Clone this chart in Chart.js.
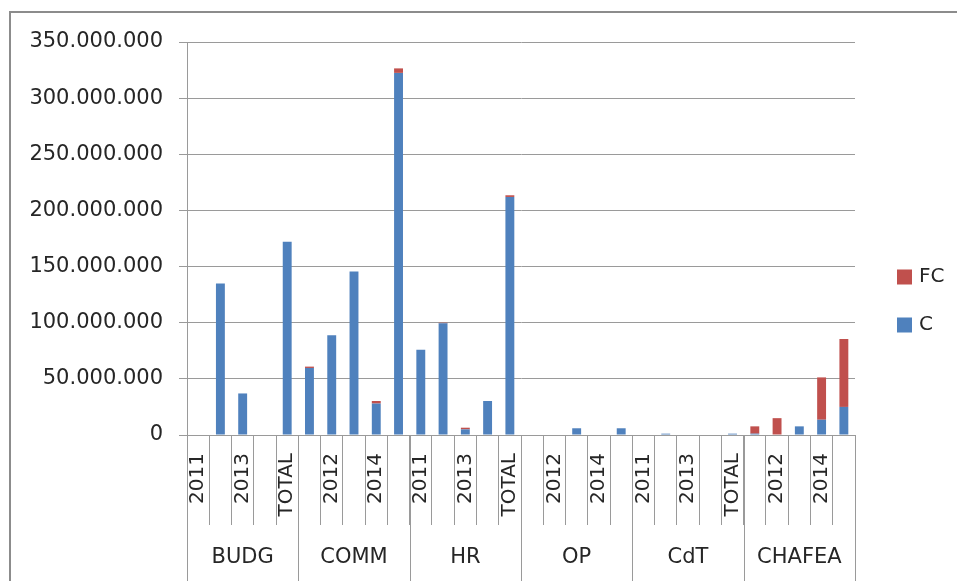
<!DOCTYPE html>
<html>
<head>
<meta charset="utf-8">
<title>C / FC per service</title>
<script src="https://cdn.jsdelivr.net/npm/chart.js@4.4.1/dist/chart.umd.min.js"></script>
<style>
    html, body { margin: 0; padding: 0; overflow: hidden; background: #fff; }
    #budgetChart { display: block; }
</style>
</head>
<body>
<canvas id="budgetChart" width="957" height="581"></canvas>

<script>
// Chart data
const groups = ['BUDG', 'COMM', 'HR', 'OP', 'CdT', 'CHAFEA'];
const years = ['2011', '2012', '2013', '2014', 'TOTAL'];

// C (blue) per group, 2011..2014 + TOTAL
const cValues = [
    0, 135000000, 37000000, 0, 172000000,
    59700000, 88800000, 145500000, 28000000, 322500000,
    76000000, 99500000, 5000000, 30300000, 212000000,
    0, 0, 6000000, 0, 6000000,
    0, 1200000, 0, 0, 1200000,
    1200000, 0, 7700000, 13600000, 25000000
];

// FC (red) per group, 2011..2014 + TOTAL
const fcValues = [
    0, 0, 0, 0, 0,
    1200000, 0, 0, 2300000, 4000000,
    0, 500000, 1500000, 0, 1500000,
    0, 0, 0, 0, 0,
    0, 0, 0, 0, 0,
    6500000, 15000000, 0, 37700000, 60500000
];

const yTicks = [0, 50000000, 100000000, 150000000, 200000000, 250000000, 300000000, 350000000];

// one category per (group, year)
const categories = [];
groups.forEach(g => years.forEach(y => categories.push(y)));

const gridColor = '#9a9a9a';
const frameColor = '#8c8c8c';
const textColor = '#262626';
const fontFamily = '"DejaVu Sans", sans-serif';

// 350000000 -> 350.000.000
function formatDots(value) {
    return String(value).replace(/\B(?=(\d{3})+(?!\d))/g, '.');
}

// Outer chart frame (only left and top edges are inside the picture)
const framePlugin = {
    id: 'frame',
    beforeDraw(chart) {
        const ctx = chart.ctx;
        ctx.save();
        ctx.strokeStyle = frameColor;
        ctx.lineWidth = 2;
        ctx.beginPath();
        ctx.moveTo(10, chart.height);
        ctx.lineTo(10, 12);
        ctx.lineTo(chart.width, 12);
        ctx.stroke();
        ctx.restore();
    }
};

// Draws the second axis level: group separators and group names
const groupAxisPlugin = {
    id: 'groupAxis',
    afterDraw(chart) {
        const x = chart.scales.x;
        const ctx = chart.ctx;
        const half = (x.getPixelForValue(1) - x.getPixelForValue(0)) / 2;

        ctx.save();
        ctx.strokeStyle = gridColor;
        ctx.lineWidth = 1;
        for (let g = 0; g <= groups.length; g++) {
            const idx = g * years.length;
            const px = idx < categories.length
                ? x.getPixelForValue(idx) - half
                : x.getPixelForValue(categories.length - 1) + half;
            const sx = Math.round(px) + 0.5;
            ctx.beginPath();
            ctx.moveTo(sx, x.top);
            ctx.lineTo(sx, chart.height);
            ctx.stroke();
        }

        ctx.fillStyle = textColor;
        ctx.font = '21px ' + fontFamily;
        ctx.textAlign = 'center';
        ctx.textBaseline = 'middle';
        groups.forEach((name, g) => {
            const first = x.getPixelForValue(g * years.length);
            const last = x.getPixelForValue(g * years.length + years.length - 1);
            ctx.fillText(name, (first + last) / 2, 558);
        });
        ctx.restore();
    }
};

// Legend to the right of the plot, FC above C (Excel order)
const sideLegendPlugin = {
    id: 'sideLegend',
    afterDraw(chart) {
        const ctx = chart.ctx;
        const items = chart.data.datasets.slice().reverse();
        const boxX = chart.chartArea.right + 42;

        ctx.save();
        ctx.font = '20px ' + fontFamily;
        ctx.textAlign = 'left';
        ctx.textBaseline = 'middle';
        items.forEach((ds, i) => {
            const cy = 277 + i * 48;
            ctx.fillStyle = ds.backgroundColor;
            ctx.fillRect(boxX, cy - 7.5, 15, 15);
            ctx.fillStyle = textColor;
            ctx.fillText(ds.label, boxX + 22, cy);
        });
        ctx.restore();
    }
};

let budgetChart = null;

function initializeBudgetChart() {
    const canvas = document.getElementById('budgetChart');
    if (!canvas) return;

    budgetChart = new Chart(canvas.getContext('2d'), {
        type: 'bar',
        data: {
            labels: categories,
            datasets: [
                {
                    label: 'C',
                    data: cValues,
                    backgroundColor: '#4F81BD',
                    borderWidth: 0
                },
                {
                    label: 'FC',
                    data: fcValues,
                    backgroundColor: '#C0504D',
                    borderWidth: 0
                }
            ]
        },
        options: {
            responsive: false,
            animation: false,
            layout: { padding: { top: 42, bottom: 21, left: 0, right: 102 } },
            datasets: {
                bar: { barPercentage: 0.4, categoryPercentage: 1 }
            },
            plugins: {
                tooltip: { enabled: false },
                legend: { display: false }
            },
            scales: {
                x: {
                    stacked: true,
                    offset: true,
                    grid: {
                        offset: true,
                        drawOnChartArea: false,
                        drawTicks: true,
                        tickLength: 90,
                        color: gridColor
                    },
                    border: { color: gridColor },
                    ticks: {
                        autoSkip: false,
                        minRotation: 90,
                        maxRotation: 90,
                        padding: -72,
                        color: textColor,
                        font: { family: fontFamily, size: 20 },
                        callback: function (value, index) {
                            return index % 2 === 0 ? this.getLabelForValue(value) : '';
                        }
                    },
                    afterFit: function (scale) {
                        scale.height = 125;
                    }
                },
                y: {
                    stacked: true,
                    min: yTicks[0],
                    max: yTicks[yTicks.length - 1],
                    grid: { color: gridColor, tickLength: 8 },
                    border: { color: gridColor },
                    ticks: {
                        stepSize: yTicks[1] - yTicks[0],
                        padding: 16,
                        color: textColor,
                        font: { family: fontFamily, size: 21 },
                        callback: value => formatDots(value)
                    },
                    afterFit: function (scale) {
                        scale.width = 187;
                    }
                }
            }
        },
        plugins: [framePlugin, groupAxisPlugin, sideLegendPlugin]
    });
}

document.addEventListener('DOMContentLoaded', initializeBudgetChart);
</script>
</body>
</html>
